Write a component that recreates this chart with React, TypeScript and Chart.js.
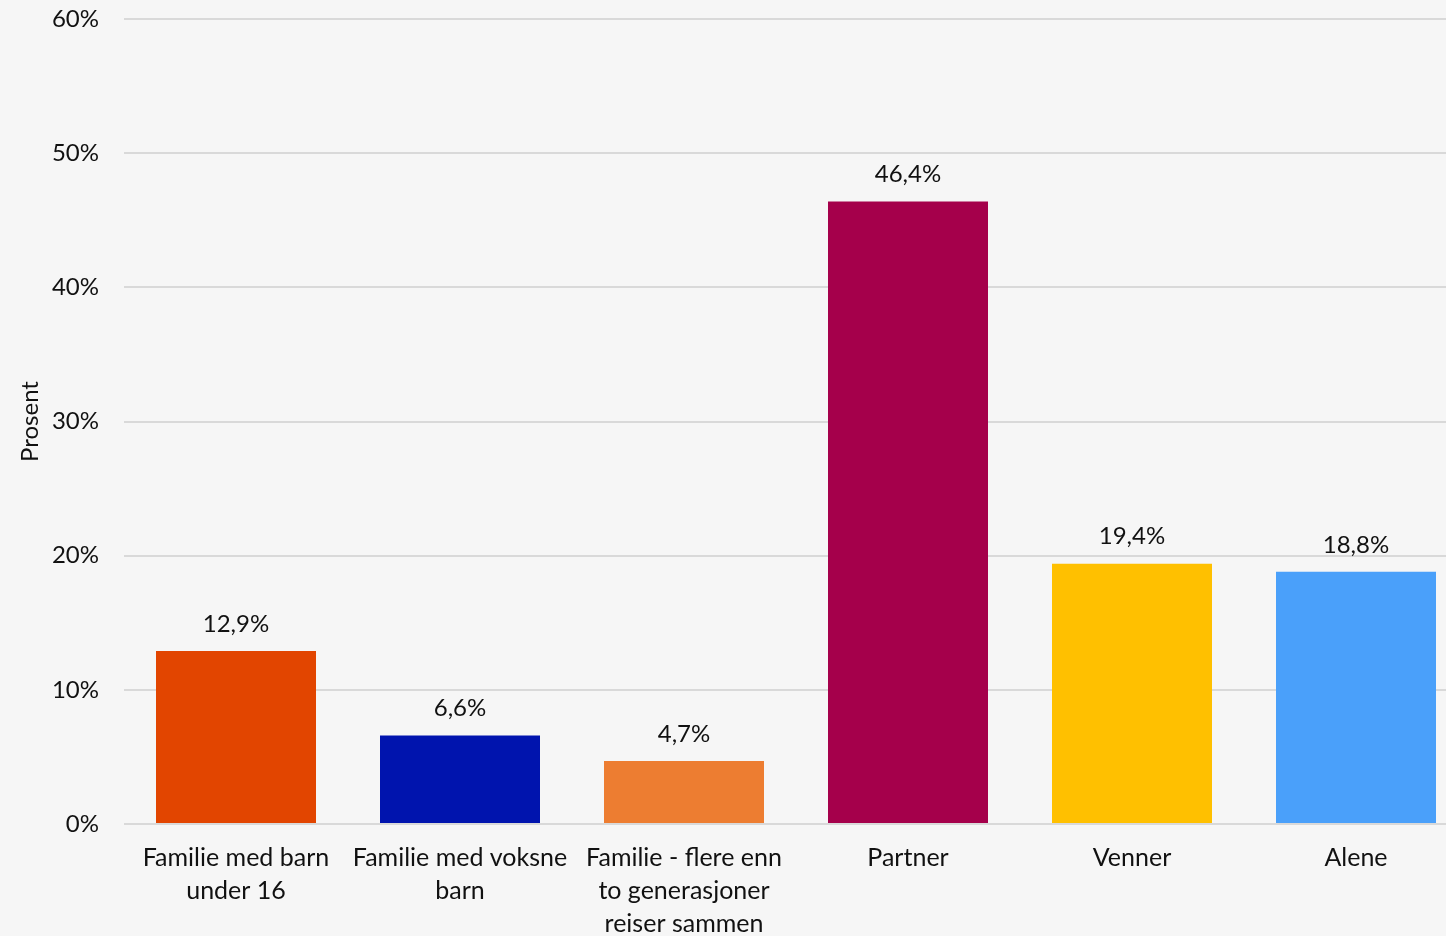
import React, { useEffect, useRef } from "react";
import { Chart, registerables } from "chart.js";

Chart.register(...registerables);

const categories: (string | string[])[] = [
  ["Familie med barn", "under 16"],
  ["Familie med voksne", "barn"],
  ["Familie - flere enn", "to generasjoner", "reiser sammen"],
  "Partner",
  "Venner",
  "Alene",
];
const values = [12.9, 6.6, 4.7, 46.4, 19.4, 18.8];
const barColors = ["#E24500", "#0014AE", "#ED7D31", "#A5004B", "#FFC000", "#4AA0FA"];
const yTicks = [0, 10, 20, 30, 40, 50, 60];

const FONT = "Lato, 'Open Sans', sans-serif";

export default function App() {
  const ref = useRef<HTMLCanvasElement | null>(null);
  useEffect(() => {
    document.body.style.margin = "0";
    document.body.style.background = "#f6f6f6";
    const labelPlugin = {
      id: "valueLabels",
      afterDatasetsDraw(chart: any) {
        const ctx = chart.ctx;
        const meta = chart.getDatasetMeta(0);
        ctx.save();
        ctx.font = `24px ${FONT}`;
        ctx.fillStyle = "#111";
        ctx.textAlign = "center";
        ctx.textBaseline = "middle";
        meta.data.forEach((bar: any, i: number) => {
          ctx.fillText(values[i].toFixed(1).replace(".", ",") + "%", bar.x, bar.y - 27);
        });
        ctx.restore();
      },
    };
    const chart = new Chart(ref.current!, {
      type: "bar",
      data: {
        labels: categories,
        datasets: [
          {
            data: values,
            backgroundColor: barColors,
            barPercentage: 1,
            categoryPercentage: 160 / 224,
          },
        ],
      },
      options: {
        animation: false,
        responsive: false,
        layout: { padding: { top: 19, left: 0, right: 0, bottom: 0 } },
        plugins: { legend: { display: false }, tooltip: { enabled: false } },
        scales: {
          x: {
            grid: { display: false },
            border: { display: false },
            ticks: {
              color: "#111",
              font: { family: FONT, size: 25, lineHeight: 1.32 },
              padding: 9,
              maxRotation: 0,
              autoSkip: false,
            },
            afterFit(scale: any) {
              scale.height = 112;
              scale.paddingLeft = 0;
              scale.paddingRight = 0;
            },
          },
          y: {
            min: 0,
            max: 60,
            afterBuildTicks(scale: any) {
              scale.ticks = yTicks.map((v) => ({ value: v }));
            },
            grid: { color: "#d9d9d9", lineWidth: 2, drawTicks: false },
            border: { display: false },
            ticks: {
              color: "#111",
              font: { family: FONT, size: 24 },
              padding: 25,
              callback: (v: any) => v + "%",
            },
            title: {
              display: true,
              text: "Prosent",
              color: "#111",
              font: { family: FONT, size: 24 },
              padding: { top: 16, bottom: 0 },
            },
            afterFit(scale: any) {
              scale.width = 124;
              scale.paddingTop = 0;
              scale.paddingBottom = 0;
            },
          },
        },
      },
      plugins: [labelPlugin],
    });
    return () => chart.destroy();
  }, []);
  return (
    <div style={{ width: 1446, height: 936, overflow: "hidden", position: "relative", background: "#f6f6f6" }}>
      <canvas ref={ref} width={1468} height={936} style={{ position: "absolute", left: 0, top: 0, width: 1468, height: 936 }} />
    </div>
  );
}
